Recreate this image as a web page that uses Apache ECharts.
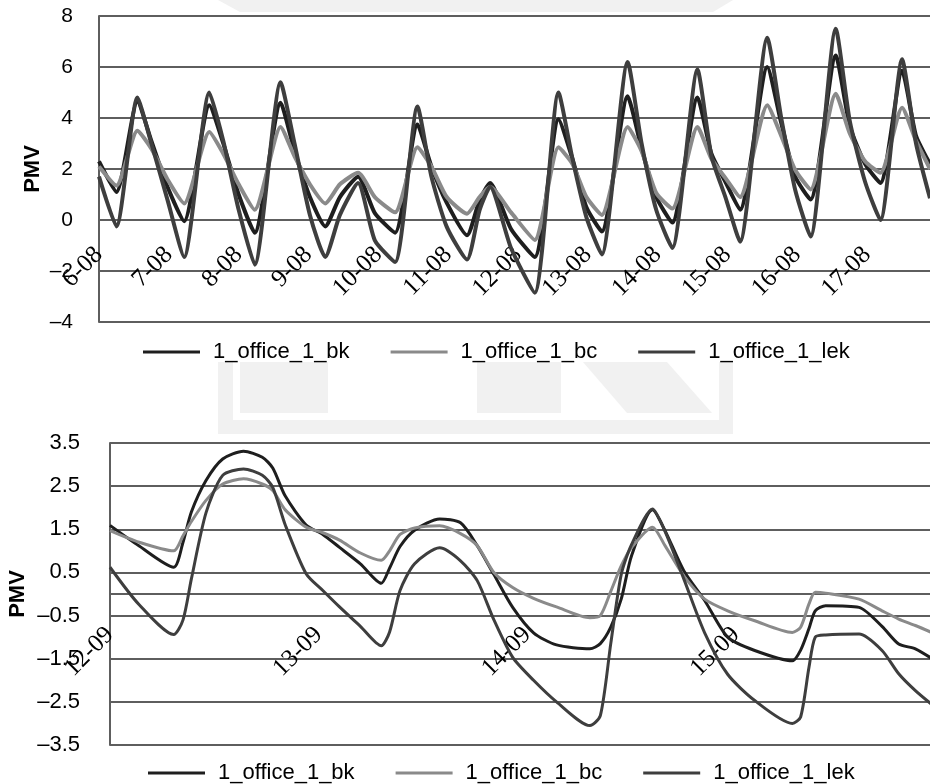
<!DOCTYPE html>
<html>
<head>
<meta charset="utf-8">
<script src="https://cdn.jsdelivr.net/npm/echarts@6/dist/echarts.min.js"></script>
<style>
  html, body { margin: 0; padding: 0; background: #fff; }
  #chart { width: 930px; height: 784px; }
</style>
</head>
<body>
<div id="chart"></div>
<script>
// ---------- Data (time in days from first label) ----------
const seriesNames = ['1_office_1_bk', '1_office_1_bc', '1_office_1_lek'];

// Top chart (August)
const topLabels = ['6-08','7-08','8-08','9-08','10-08','11-08','12-08','13-08','14-08','15-08','16-08','17-08'];
const topTime = [0, 0.25, 0.55, 0.75, 0.98, 1.22, 1.58, 1.78, 2.0, 2.23, 2.6, 2.8, 3.02, 3.24, 3.45, 3.71, 3.95,
  4.24, 4.56, 4.76, 4.98, 5.27, 5.45, 5.6, 5.9, 6.24, 6.58, 6.78, 6.98, 7.2, 7.57, 7.77, 7.98, 8.21, 8.57, 8.77, 8.97,
  9.18, 9.57, 9.77, 9.97, 10.19, 10.55, 10.75, 10.97, 11.19, 11.5, 11.7, 11.9];
const topBk = [2.3, 1.1, 4.65, 3.1, 1.3, -0.05, 4.5, 3.0, 1.0, -0.5, 4.6, 2.7, 0.9, -0.25, 0.9, 1.7, 0.27,
  -0.5, 3.75, 2.1, 0.67, -0.6, 0.78, 1.45, -0.35, -1.45, 3.95, 2.4, 0.5, -0.45, 4.85, 2.8, 0.9, -0.1, 4.8, 2.6, 1.5,
  0.4, 6.0, 3.8, 1.7, 0.8, 6.45, 3.7, 2.2, 1.45, 5.85, 3.3, 2.2];
const topBc = [2.1, 1.35, 3.5, 2.8, 1.6, 0.65, 3.45, 2.6, 1.4, 0.4, 3.65, 2.5, 1.4, 0.65, 1.4, 1.85, 0.9,
  0.3, 2.85, 2.1, 0.9, 0.25, 0.9, 1.3, 0.3, -0.78, 2.85, 2.2, 0.9, 0.2, 3.65, 2.7, 1.06, 0.45, 3.65, 2.4, 1.65,
  0.9, 4.5, 3.3, 1.96, 1.2, 4.95, 3.4, 2.3, 1.85, 4.4, 3.1, 2.0];
const topLek = [1.7, -0.25, 4.8, 3.0, 0.8, -1.45, 5.0, 3.1, 0.4, -1.75, 5.4, 3.0, 0.2, -1.45, 0.2, 1.45, -0.8,
  -1.65, 4.45, 1.7, -0.27, -1.55, 0.39, 1.3, -1.1, -2.85, 5.0, 2.4, 0.1, -1.35, 6.2, 3.0, 0.39, -1.1, 5.9, 2.5, 0.9,
  -0.85, 7.15, 4.0, 1.18, -0.65, 7.5, 3.9, 1.5, 0.0, 6.3, 3.0, 0.85];

// Bottom chart (September)
const botLabels = ['12-09','13-09','14-09','15-09'];
const botTime = [0, 0.14, 0.305, 0.35, 0.39, 0.46, 0.54, 0.64, 0.73, 0.78, 0.84, 0.94,
  1.02, 1.10, 1.20, 1.30, 1.34, 1.39, 1.46, 1.58, 1.68, 1.76, 1.84, 1.93,
  2.03, 2.14, 2.30, 2.35, 2.40, 2.45, 2.50, 2.60, 2.66, 2.75, 2.85, 2.96,
  3.09, 3.27, 3.31, 3.35, 3.38, 3.43, 3.59, 3.70, 3.78, 3.86, 3.956];
const botBk = [1.59, 1.11, 0.62, 1.2, 1.9, 2.63, 3.13, 3.31, 3.17, 2.92, 2.27, 1.6,
  1.38, 1.08, 0.70, 0.25, 0.6, 1.1, 1.48, 1.74, 1.65, 1.12, 0.45, -0.31,
  -0.9, -1.18, -1.27, -1.15, -0.77, -0.12, 0.89, 1.95, 1.47, 0.54, -0.15, -1.0,
  -1.31, -1.55, -1.3, -0.8, -0.39, -0.27, -0.31, -0.75, -1.16, -1.27, -1.55];
const botBc = [1.47, 1.2, 1.0, 1.35, 1.68, 2.17, 2.55, 2.67, 2.55, 2.40, 1.95, 1.55,
  1.42, 1.25, 0.95, 0.78, 1.0, 1.38, 1.53, 1.58, 1.40, 1.12, 0.5, 0.15,
  -0.1, -0.3, -0.55, -0.5, 0.06, 0.65, 1.08, 1.55, 1.12, 0.42, -0.12, -0.39,
  -0.62, -0.89, -0.77, -0.23, 0.04, 0.02, -0.12, -0.39, -0.58, -0.73, -0.93];
const botLek = [0.62, -0.25, -0.94, -0.6, 0.35, 1.88, 2.75, 2.90, 2.75, 2.47, 1.6, 0.47,
  0.08, -0.3, -0.75, -1.2, -0.88, 0.08, 0.7, 1.07, 0.77, 0.31, -0.6, -1.47,
  -2.0, -2.5, -3.05, -2.82, -1.15, 0.45, 1.15, 1.97, 1.45, 0.35, -0.9, -1.86,
  -2.47, -3.0, -2.85, -1.7, -1.0, -0.95, -0.93, -1.31, -1.85, -2.24, -2.63];

// ---------- Styling ----------
const colors = ['#1e1e1e', '#8a8a8a', '#3e3e3e'];
const gridColor = '#5e5e5e';
const sans = 'Liberation Sans, Arial, sans-serif';
const serif = '"Liberation Serif", "Times New Roman", serif';
const dash = '\u2013';

function pairs(t, v) { return t.map((x, i) => [x, v[i]]); }
function fmtNum(v, dec) {
  const s = Math.abs(v).toFixed(dec);
  return v < 0 ? dash + s : s;
}

const topData = [topBk, topBc, topLek];
const botData = [botBk, botBc, botLek];

const series = [];
seriesNames.forEach((name, i) => {
  series.push({
    name, type: 'line', xAxisIndex: 0, yAxisIndex: 0,
    data: pairs(topTime, topData[i]),
    showSymbol: false, symbol: 'none', smooth: 0.2,
    lineStyle: { color: colors[i], width: 4, join: 'round' },
    itemStyle: { color: colors[i] },
    z: 3 + i
  });
});
seriesNames.forEach((name, i) => {
  series.push({
    name, type: 'line', xAxisIndex: 1, yAxisIndex: 1,
    data: pairs(botTime, botData[i]),
    showSymbol: false, symbol: 'none', smooth: 0.25,
    lineStyle: { color: colors[i], width: 3, join: 'round' },
    itemStyle: { color: colors[i] },
    z: 3 + i
  });
});

const legendCommon = {
  orient: 'horizontal',
  icon: 'rect',
  itemWidth: 57,
  itemHeight: 3,
  itemGap: 41,
  padding: 0,
  selectedMode: false,
  data: seriesNames,
  textStyle: { fontFamily: sans, fontSize: 22, color: '#000', padding: [0, 0, 0, 8] }
};

// plot geometry (pixels)
const topGrid = { left: 99, top: 16, height: 306 };
const botGrid = { left: 110, top: 443, height: 302 };
const topY = { min: -4, max: 8 };
const botY = { min: -3.5, max: 3.5 };
// move the date axis up to the value-0 line
const topZeroOffset = -topGrid.height * (0 - topY.min) / (topY.max - topY.min);
const botZeroOffset = -botGrid.height * (0 - botY.min) / (botY.max - botY.min);

const option = {
  animation: false,
  backgroundColor: '#fff',
  graphic: [
    { type: 'polygon', z: -10, shape: { points: [[218, 0], [733, 0], [713, 12], [240, 12]] }, style: { fill: '#f1f1f1' } },
    { type: 'rect', z: -10, shape: { x: 218, y: 362, width: 15, height: 72 }, style: { fill: '#f1f1f1' } },
    { type: 'rect', z: -10, shape: { x: 218, y: 420, width: 515, height: 14 }, style: { fill: '#f1f1f1' } },
    { type: 'rect', z: -10, shape: { x: 719, y: 362, width: 14, height: 72 }, style: { fill: '#f1f1f1' } },
    { type: 'rect', z: -10, shape: { x: 240, y: 362, width: 88, height: 51 }, style: { fill: '#f1f1f1' } },
    { type: 'rect', z: -10, shape: { x: 477, y: 362, width: 84, height: 51 }, style: { fill: '#f1f1f1' } },
    { type: 'polygon', z: -10, shape: { points: [[583, 362], [667, 362], [712, 413], [627, 413]] }, style: { fill: '#f1f1f1' } }
  ],
  legend: [
    Object.assign({}, legendCommon, { left: 143, top: 341 }),
    Object.assign({}, legendCommon, { left: 148, top: 762 })
  ],
  grid: [
    { left: topGrid.left, top: topGrid.top, right: 0, height: topGrid.height, containLabel: false, outerBoundsMode: 'none' },
    { left: botGrid.left, top: botGrid.top, right: 0, height: botGrid.height, containLabel: false, outerBoundsMode: 'none' }
  ],
  xAxis: [
    {
      type: 'value', gridIndex: 0, min: 0, max: 11.9, interval: 1, position: 'bottom', offset: topZeroOffset,
      axisLine: { show: true, onZero: false, lineStyle: { color: gridColor, width: 2 } },
      axisTick: { show: false },
      splitLine: { show: false },
      axisLabel: {
        rotate: 45, margin: 31, fontFamily: serif, fontSize: 25, color: '#000',
        showMaxLabel: false,
        formatter: v => (Math.abs(v - Math.round(v)) < 1e-6 && topLabels[Math.round(v)]) ? topLabels[Math.round(v)] : ''
      }
    },
    {
      type: 'value', gridIndex: 1, min: 0, max: 3.93, interval: 1, position: 'bottom', offset: botZeroOffset,
      axisLine: { show: true, onZero: false, lineStyle: { color: gridColor, width: 2 } },
      axisTick: { show: false },
      splitLine: { show: false },
      axisLabel: {
        rotate: 45, margin: 37, fontFamily: serif, fontSize: 25, color: '#000',
        showMaxLabel: false,
        formatter: v => (Math.abs(v - Math.round(v)) < 1e-6 && botLabels[Math.round(v)]) ? botLabels[Math.round(v)] : ''
      }
    }
  ],
  yAxis: [
    {
      type: 'value', gridIndex: 0, min: topY.min, max: topY.max, interval: 2,
      name: 'PMV', nameLocation: 'middle', nameGap: 55, nameMoveOverlap: false,
      nameTextStyle: { fontFamily: sans, fontSize: 22, fontWeight: 'bold', color: '#000' },
      axisLine: { show: true, onZero: false, lineStyle: { color: gridColor, width: 2 } },
      axisTick: { show: false },
      splitLine: { show: true, lineStyle: { color: gridColor, width: 2 } },
      axisLabel: { margin: 26, fontFamily: sans, fontSize: 21, color: '#000', formatter: v => fmtNum(v, 0) }
    },
    {
      type: 'value', gridIndex: 1, min: botY.min, max: botY.max, interval: 0.5,
      name: 'PMV', nameLocation: 'middle', nameGap: 81, nameMoveOverlap: false,
      nameTextStyle: { fontFamily: sans, fontSize: 22, fontWeight: 'bold', color: '#000' },
      axisLine: { show: true, onZero: false, lineStyle: { color: gridColor, width: 2 } },
      axisTick: { show: false },
      splitLine: { show: true, lineStyle: { color: [gridColor, 'rgba(0,0,0,0)'], width: 2 } },
      axisLabel: {
        margin: 30, fontFamily: sans, fontSize: 22, color: '#000',
        formatter: v => (Math.round(v * 2) % 2 !== 0) ? fmtNum(v, 1) : ''
      }
    }
  ],
  series
};

const chart = echarts.init(document.getElementById('chart'), null, { renderer: 'canvas' });
chart.setOption(option);
</script>
</body>
</html>
